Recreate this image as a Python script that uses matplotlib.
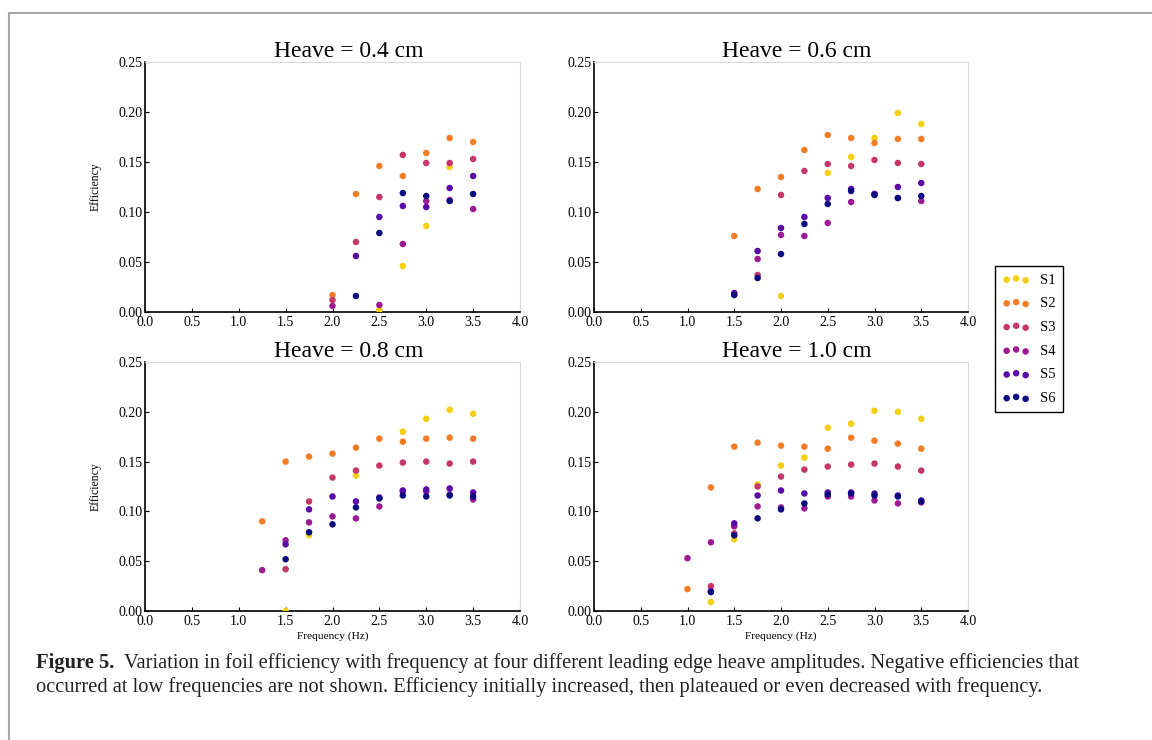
import numpy as np
import matplotlib
matplotlib.use('Agg')
import matplotlib.pyplot as plt
from matplotlib.lines import Line2D

plt.rcParams['font.family'] = ['Liberation Serif', 'DejaVu Serif']

nan = np.nan

# frequencies (Hz)
freq = [1.0, 1.25, 1.5, 1.75, 2.0, 2.25, 2.5, 2.75, 3.0, 3.25, 3.5]
series_names = ['S1', 'S2', 'S3', 'S4', 'S5', 'S6']
series_colors = ['#f5cf0f', '#f47c27', '#c5376a', '#9c1a93', '#5a08a6', '#0b0a7e']
heaves = ['0.4', '0.6', '0.8', '1.0']

# efficiency, rows S1..S6, columns follow freq; nan = not shown
eff_04 = [
    [nan, nan, nan, nan, nan, nan, 0.002, 0.046, 0.086, 0.145, nan],
    [nan, nan, nan, nan, 0.017, 0.118, 0.146, 0.136, 0.159, 0.174, 0.170],
    [nan, nan, nan, nan, 0.012, 0.070, 0.115, 0.157, 0.149, 0.149, 0.153],
    [nan, nan, nan, nan, 0.006, nan, 0.007, 0.068, 0.111, 0.112, 0.103],
    [nan, nan, nan, nan, nan, 0.056, 0.095, 0.106, 0.105, 0.124, 0.136],
    [nan, nan, nan, nan, nan, 0.016, 0.079, 0.119, 0.116, 0.111, 0.118],
]
eff_06 = [
    [nan, nan, nan, nan, 0.016, nan, 0.139, 0.155, 0.174, 0.199, 0.188],
    [nan, nan, 0.076, 0.123, 0.135, 0.162, 0.177, 0.174, 0.169, 0.173, 0.173],
    [nan, nan, nan, 0.037, 0.117, 0.141, 0.148, 0.146, 0.152, 0.149, 0.148],
    [nan, nan, 0.018, 0.053, 0.077, 0.076, 0.089, 0.110, 0.118, 0.114, 0.111],
    [nan, nan, 0.019, 0.061, 0.084, 0.095, 0.114, 0.123, 0.118, 0.125, 0.129],
    [nan, nan, 0.017, 0.034, 0.058, 0.088, 0.108, 0.121, 0.117, 0.114, 0.116],
]
eff_08 = [
    [nan, nan, 0.000, 0.076, nan, 0.136, nan, 0.180, 0.193, 0.202, 0.198],
    [nan, 0.090, 0.150, 0.155, 0.158, 0.164, 0.173, 0.170, 0.173, 0.174, 0.173],
    [nan, nan, 0.042, 0.110, 0.134, 0.141, 0.146, 0.149, 0.150, 0.148, 0.150],
    [nan, 0.041, 0.071, 0.089, 0.095, 0.093, 0.105, 0.120, 0.120, 0.117, 0.112],
    [nan, nan, 0.067, 0.102, 0.115, 0.110, 0.114, 0.121, 0.122, 0.123, 0.119],
    [nan, nan, 0.052, 0.079, 0.087, 0.104, 0.113, 0.116, 0.115, 0.116, 0.115],
]
eff_10 = [
    [nan, 0.009, 0.072, 0.127, 0.146, 0.154, 0.184, 0.188, 0.201, 0.200, 0.193],
    [0.022, 0.124, 0.165, 0.169, 0.166, 0.165, 0.163, 0.174, 0.171, 0.168, 0.163],
    [nan, 0.025, 0.078, 0.125, 0.135, 0.142, 0.145, 0.147, 0.148, 0.145, 0.141],
    [0.053, 0.069, 0.085, 0.105, 0.104, 0.103, 0.115, 0.115, 0.111, 0.108, 0.109],
    [nan, 0.020, 0.088, 0.116, 0.121, 0.118, 0.119, 0.119, 0.118, 0.116, 0.111],
    [nan, 0.019, 0.076, 0.093, 0.102, 0.108, 0.117, 0.118, 0.116, 0.115, 0.110],
]
all_eff = [eff_04, eff_06, eff_08, eff_10]

W, H = 1152, 740
fig = plt.figure(figsize=(W / 100, H / 100), dpi=100)

# axes boxes in pixels: left, top, right, bottom
boxes = [(145, 62, 520, 312), (594, 62, 968, 312),
         (145, 362, 520, 611), (594, 362, 968, 611)]

legend_handles = []
for i, (l, t, r, b) in enumerate(boxes):
    ax = fig.add_axes([l / W, 1 - b / H, (r - l) / W, (b - t) / H])
    for k in range(6):
        sc = ax.scatter(freq, all_eff[i][k], s=22, color=series_colors[k],
                        edgecolors='none', zorder=3)
        if i == 0:
            legend_handles.append(sc)
    ax.set_xlim(0, 4)
    ax.set_ylim(0, 0.25)
    ax.set_xticks(np.arange(0, 4.01, 0.5))
    ax.set_yticks(np.arange(0, 0.251, 0.05))
    ax.xaxis.set_major_formatter(matplotlib.ticker.FormatStrFormatter('%.1f'))
    ax.yaxis.set_major_formatter(matplotlib.ticker.FormatStrFormatter('%.2f'))
    ax.tick_params(direction='in', length=3, width=0.8, labelsize=10,
                   top=False, right=False)
    ax.tick_params(axis='x', pad=3)
    ax.tick_params(axis='y', pad=2)
    ax.spines['top'].set_color('#d8d8d8')
    ax.spines['right'].set_color('#d8d8d8')
    ax.spines['left'].set_linewidth(1.2)
    ax.spines['bottom'].set_linewidth(1.2)
    ax.set_title('Heave = %s cm' % heaves[i], fontsize=17, pad=1, x=0.543)
    if i % 2 == 0:
        ax.set_ylabel('Efficiency', fontsize=8.5, labelpad=12)
    if i >= 2:
        ax.set_xlabel('Frequency (Hz)', fontsize=8.2, labelpad=2)

leg = fig.legend(legend_handles, series_names, loc='upper left',
                 bbox_to_anchor=(995 / W, 1 - 266 / H), borderaxespad=0,
                 fontsize=10.5, scatterpoints=3, handlelength=1.9,
                 handletextpad=0.7, labelspacing=0.72, borderpad=0.5,
                 fancybox=False, edgecolor='black', framealpha=1)
leg.get_frame().set_linewidth(1.0)

# outer frame
fig.add_artist(Line2D([9 / W, 9 / W], [0, 1 - 13 / H], color='#a8a8a8', lw=1.5))
fig.add_artist(Line2D([9 / W, 1], [1 - 13 / H, 1 - 13 / H], color='#a8a8a8', lw=1.5))

# caption
fig.canvas.draw()
renderer = fig.canvas.get_renderer()
cap_size = 14.8
t1 = fig.text(36 / W, 1 - 663 / H, 'Figure 5.', fontsize=cap_size,
              fontweight='bold', va='center', color='#222222')
bb = t1.get_window_extent(renderer)
fig.text((bb.x1 + 10) / W, 1 - 663 / H,
         'Variation in foil efficiency with frequency at four different leading edge '
         'heave amplitudes. Negative efficiencies that',
         fontsize=cap_size, va='center', color='#222222')
fig.text(36 / W, 1 - 687 / H,
         'occurred at low frequencies are not shown. Efficiency initially increased, '
         'then plateaued or even decreased with frequency.',
         fontsize=cap_size, va='center', color='#222222')

fig.savefig('out.png', dpi=100)
